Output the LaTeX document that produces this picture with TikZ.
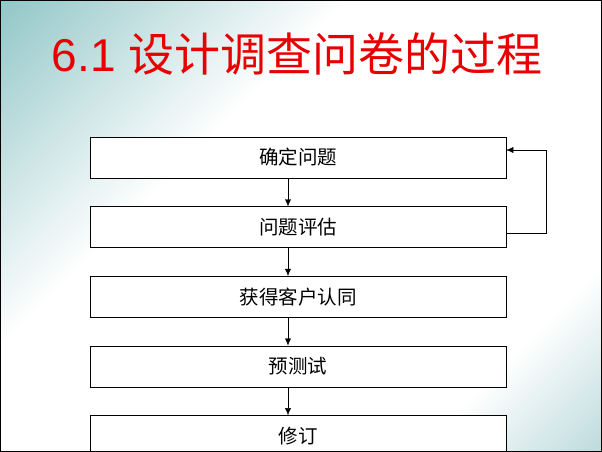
\documentclass[tikz,border=0pt]{standalone}
\usepackage{fontspec}
\setmainfont{Liberation Sans}
\newfontfamily\cjk{Noto Sans CJK SC}
\usetikzlibrary{positioning,arrows.meta}
\definecolor{slideteal}{RGB}{78,163,165}
\definecolor{slidetealpale}{RGB}{112,176,180}
\definecolor{titlered}{RGB}{232,0,0}
\pgfdeclareverticalshading{slidebg}{100bp}{color(0bp)=(slidetealpale); color(27bp)=(white); color(62bp)=(white); color(100bp)=(slideteal)}

\begin{document}
\begin{tikzpicture}[x=1pt,y=-1pt,
    stepbox/.style={draw, semithick, fill=white, minimum width=416pt, minimum height=41pt, inner sep=0pt, font=\cjk\fontsize{19.5}{19.5}\selectfont},
    flow/.style={-{Latex[length=7pt,width=6pt]}, thin}]
    \useasboundingbox (0,0) rectangle (602,452);
    \clip (0,0) rectangle (602,452);
    \shade [shading=slidebg, shading angle=45] (0,0) rectangle (602,452);
    \node (title) at (297,54) [text=titlered, font=\fontsize{46}{46}\selectfont] {6.1 {\cjk 设计调查问卷的过程}};
    % process steps
    \node (define) at (298,157.5) [stepbox] {确定问题};
    \node (assess) [stepbox, below=28pt of define] {问题评估};
    \node (client) [stepbox, below=28pt of assess] {获得客户认同};
    \node (pretest) [stepbox, below=28pt of client] {预测试};
    \node (revise) [stepbox, below=28pt of pretest] {修订};
    \draw [flow] ([xshift=-10pt]define.south) -- ([xshift=-10pt]assess.north);
    \draw [flow] ([xshift=-10pt]assess.south) -- ([xshift=-10pt]client.north);
    \draw [flow] ([xshift=-10pt]client.south) -- ([xshift=-10pt]pretest.north);
    \draw [flow] ([xshift=-10pt]pretest.south) -- ([xshift=-10pt]revise.north);
    % loop back
    \coordinate (loop) at ([xshift=40pt,yshift=-6.5pt]assess.east);
    \draw [flow] ([yshift=-6.5pt]assess.east) -- (loop) |- ([yshift=7.5pt]define.east);
    \draw [line width=2.5pt] (0,0) rectangle (602,452);
\end{tikzpicture}
\end{document}
